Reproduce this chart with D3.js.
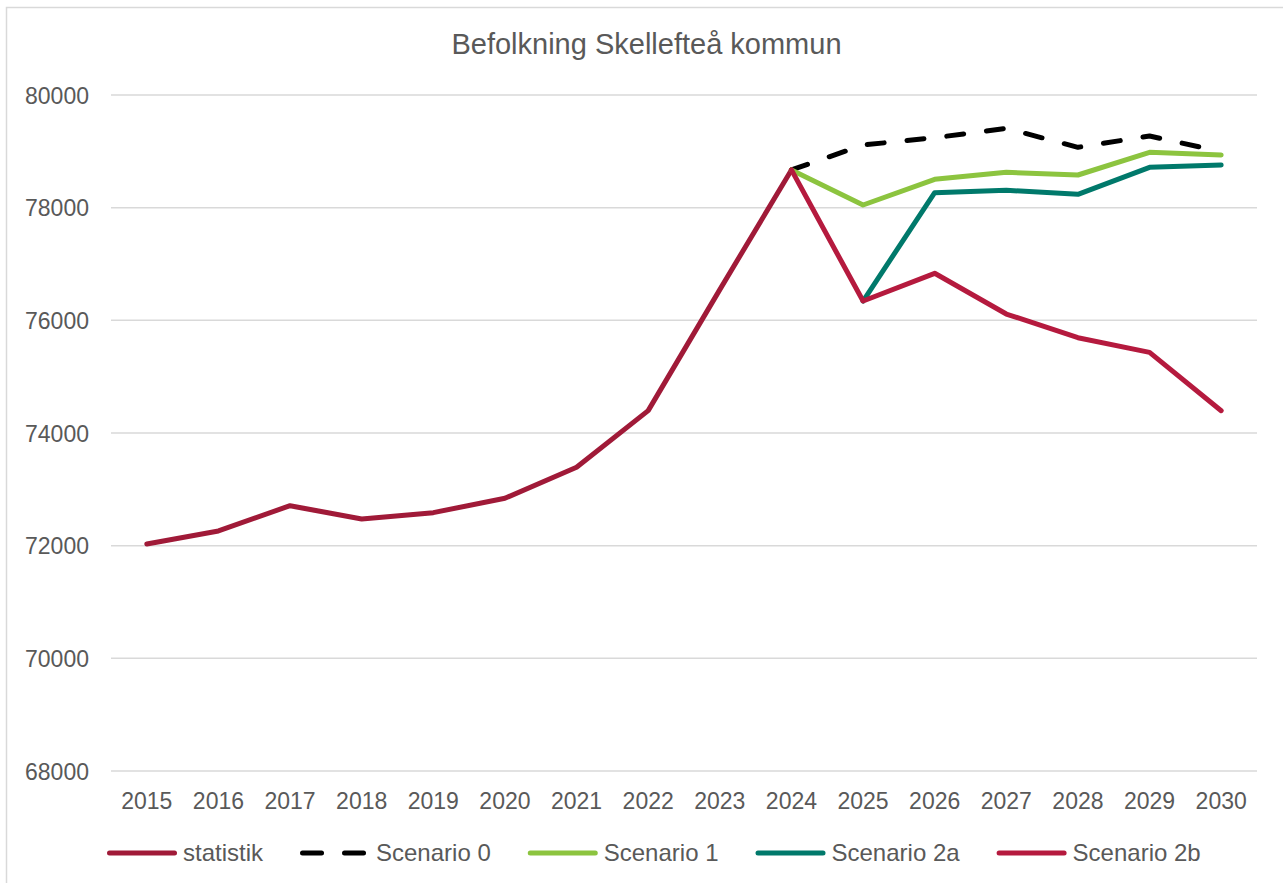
<!DOCTYPE html>
<html>
<head>
<meta charset="utf-8">
<script src="https://cdn.jsdelivr.net/npm/d3@7"></script>
<style>
  html, body { margin: 0; padding: 0; background: #ffffff; }
  svg { display: block; }
  text { font-family: "Liberation Sans", Arial, sans-serif; fill: #595959; }
</style>
</head>
<body>
<svg id="chart" width="1283" height="883"></svg>
<script>
const title = "Befolkning Skellefteå kommun";
const years = ["2015","2016","2017","2018","2019","2020","2021","2022","2023","2024","2025","2026","2027","2028","2029","2030"];
const yTicks = [68000, 70000, 72000, 74000, 76000, 78000, 80000];

const statistik  = [72030, 72261, 72710, 72474, 72586, 72841, 73392, 74397, 76545, 78670, null, null, null, null, null, null];
const scenario0  = [null, null, null, null, null, null, null, null, null, 78670, 79112, 79242, 79408, 79071, 79272, 78994];
const scenario1  = [null, null, null, null, null, null, null, null, null, 78670, 78047, 78503, 78627, 78580, 78982, 78935];
const scenario2a = [null, null, null, null, null, null, null, null, null, null, 76343, 78266, 78308, 78237, 78716, 78757];
const scenario2b = [null, null, null, null, null, null, null, null, null, 78670, 76343, 76835, 76112, 75692, 75432, 74396];

const seriesNames = ["statistik", "Scenario 0", "Scenario 1", "Scenario 2a", "Scenario 2b"];
const seriesValues = [statistik, scenario0, scenario1, scenario2a, scenario2b];
const seriesColors = ["#A01A38", "#000000", "#8CC43F", "#00796B", "#B51A3E"];
const seriesDash = [null, "17 23", null, null, null];

const svg = d3.select("#chart");
const W = 1283, H = 883;
const plot = { left: 111, right: 1257, top: 95, bottom: 771 };

// outer frame
svg.append("rect")
  .attr("x", 6.5).attr("y", 7.5)
  .attr("width", W + 50).attr("height", H + 50)
  .attr("fill", "none").attr("stroke", "#d9d9d9").attr("stroke-width", 1.5);

const x = d3.scaleBand().domain(years).range([plot.left, plot.right]).padding(0);
const y = d3.scaleLinear().domain([68000, 80000]).range([plot.bottom, plot.top]);
const cx = d => x(d) + x.bandwidth() / 2;

// title
svg.append("text")
  .attr("x", 646.5).attr("y", 54)
  .attr("text-anchor", "middle")
  .style("font-size", "29px")
  .text(title);

// grid lines
svg.append("g")
  .selectAll("line")
  .data(yTicks)
  .join("line")
  .attr("x1", plot.left).attr("x2", plot.right)
  .attr("y1", d => y(d)).attr("y2", d => y(d))
  .attr("stroke", "#d9d9d9").attr("stroke-width", 1.5);

// y axis labels
const yAxis = d3.axisLeft(y).tickValues(yTicks).tickSize(0).tickPadding(0).tickFormat(d3.format("d"));
const yg = svg.append("g").attr("transform", `translate(89,0)`).call(yAxis);
yg.select(".domain").remove();
yg.selectAll("text")
  .attr("dy", "0.35em")
  .style("font-size", "23px")
  .style("font-family", "'Liberation Sans', Arial, sans-serif")
  .attr("fill", "#595959");

// x axis labels
const xAxis = d3.axisBottom(x).tickSize(0).tickPadding(0);
const xg = svg.append("g").attr("transform", `translate(0,${plot.bottom})`).call(xAxis);
xg.select(".domain").remove();
xg.selectAll("text")
  .attr("y", 38).attr("dy", 0)
  .style("font-size", "23px")
  .style("font-family", "'Liberation Sans', Arial, sans-serif")
  .attr("fill", "#595959");

// lines
const line = d3.line()
  .defined(d => d.v !== null)
  .x(d => cx(d.year))
  .y(d => y(d.v));

seriesValues.forEach((vals, i) => {
  const data = years.map((yr, j) => ({ year: yr, v: vals[j] }));
  const p = svg.append("path")
    .datum(data)
    .attr("d", line)
    .attr("fill", "none")
    .attr("stroke", seriesColors[i])
    .attr("stroke-width", 5)
    .attr("stroke-linejoin", "round")
    .attr("stroke-linecap", "round");
  if (seriesDash[i]) p.attr("stroke-dasharray", seriesDash[i]);
});

// legend
const legend = svg.append("g");
let lx = 107;
const ly = 853;
seriesNames.forEach((name, i) => {
  const g = legend.append("g");
  const l = g.append("line")
    .attr("x1", lx + 2.5).attr("x2", lx + 67.5)
    .attr("y1", ly).attr("y2", ly)
    .attr("stroke", seriesColors[i]).attr("stroke-width", 5)
    .attr("stroke-linecap", "round");
  if (seriesDash[i]) l.attr("stroke-dasharray", "19 23");
  const t = g.append("text")
    .attr("x", lx + 76).attr("y", ly + 8)
    .style("font-size", "24px")
    .text(name);
  const tw = t.node().getComputedTextLength();
  lx = lx + 76 + tw + 37;
});
</script>
</body>
</html>
